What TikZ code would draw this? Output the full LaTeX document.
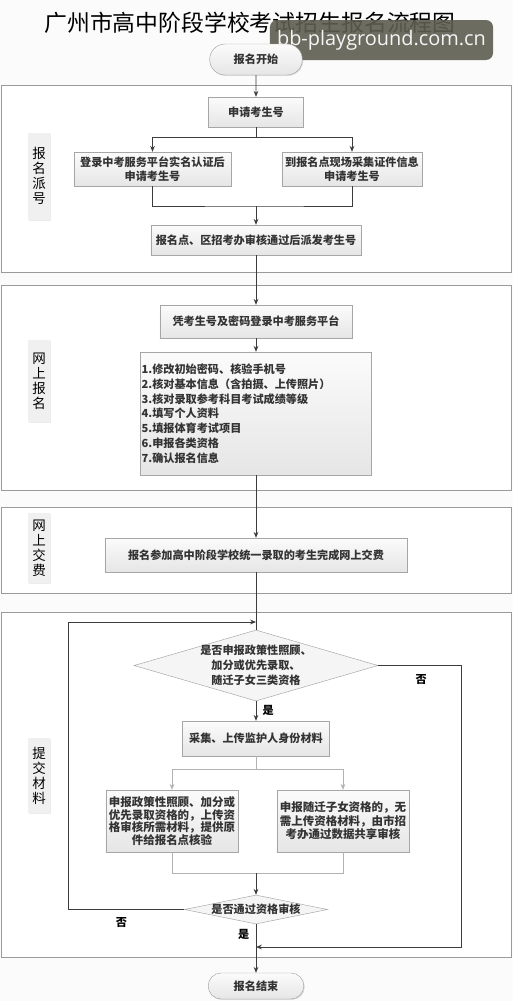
\documentclass[tikz,border=0pt]{standalone}
\usepackage{fontspec}
\setmainfont{Noto Sans CJK SC}
\newfontfamily\wmfont{Open Sans}
\usetikzlibrary{arrows.meta,shapes.geometric,shapes.misc,shadows}
\definecolor{linegray}{HTML}{3C3C3C}
\definecolor{framegray}{HTML}{9A9A9A}
\definecolor{wmbg}{HTML}{5E5D50}
\begin{document}
\begin{tikzpicture}[x=0.03cm,y=0.03cm,font=\fontsize{9.5}{11.5}\selectfont\bfseries,
  >={Stealth[length=5pt,width=4pt]},
  box/.style={draw=gray!70,top color=gray!3,bottom color=gray!20,align=center,inner sep=1pt,text=black!80,
    drop shadow={opacity=.25,shadow xshift=.8pt,shadow yshift=-.8pt}},
  term/.style={box,rounded rectangle},
  choice/.style={diamond,draw=gray!70,fill=gray!8,align=center,text=black!80,font=\fontsize{9.5}{12.8}\selectfont\bfseries},
  lbl/.style={fill=gray!12,align=center,minimum width=.66cm,inner sep=1pt,
    font=\fontsize{11.5}{12.8}\selectfont\mdseries,drop shadow={opacity=.15,shadow xshift=1pt,shadow yshift=-1pt}},
  frame/.style={draw=framegray,fill=white,line width=.6pt},
  flow/.style={draw=linegray,line width=.7pt},
  branch/.style={draw=gray!60,line width=.6pt}]
\useasboundingbox (0,0) rectangle (513,-1001);
\fill[gray!3] (0,0) rectangle (513,-1001);
\foreach \ya/\yb in {85/272,285/490,507/593,612/957}
  \draw[frame] (1.5,-\ya) rectangle (511,-\yb);
\foreach \y/\h/\t/\n in {176/2.61/{报\\名\\派\\号}/a,381/2.46/{网\\上\\报\\名}/b,548/2.1/{网\\上\\交\\费}/c,775.5/2.25/{提\\交\\材\\料}/d}
  \node[lbl,minimum height=\h cm] (lbl\n) at (39,-\y) {\t};

\node[font=\fontsize{19.5}{20}\selectfont\mdseries] (title) at (250,-23) {广州市高中阶段学校考试招生报名流程图};
\node[fill=wmbg,fill opacity=.9,text opacity=1,text=white!92!gray,rounded corners=6pt,
  minimum width=6.69cm,minimum height=1.2cm,font=\wmfont\fontsize{17}{17}\selectfont] (wm) at (381.5,-40) {bb-playground.com.cn};

\node[term,minimum width=2.85cm,minimum height=.93cm] (start) at (256,-59.5) {报名开始};
\node[box,minimum width=2.85cm,minimum height=.9cm] (apply) at (256,-112) {申请考生号};
\node[box,minimum width=4.71cm,minimum height=1.02cm] (online) at (152.5,-169) {登录中考服务平台实名认证后\\申请考生号};
\node[box,minimum width=4.2cm,minimum height=1.02cm] (onsite) at (352,-169) {到报名点现场采集证件信息\\申请考生号};
\node[box,minimum width=6.3cm,minimum height=.9cm] (assign) at (256,-240) {报名点、区招考办审核通过后派发考生号};
\node[box,minimum width=5.76cm,minimum height=.99cm] (login) at (256,-321.5) {凭考生号及密码登录中考服务平台};
\node[box,align=left,text width=6.86cm,minimum height=3.69cm,font=\fontsize{9.5}{12.6}\selectfont\bfseries] (list) at (256,-413.5)
  {1.修改初始密码、核验手机号\\2.核对基本信息（含拍摄、上传照片）\\3.核对录取参考科目考试成绩等级\\4.填写个人资料\\5.填报体育考试项目\\6.申报各类资格\\7.确认报名信息};
\node[box,minimum width=9.06cm,minimum height=1.02cm] (pay) at (256,-555) {报名参加高中阶段学校统一录取的考生完成网上交费};
\node[choice,aspect=3.44,inner sep=-2pt,minimum width=7.32cm,minimum height=2.13cm] (q1) at (256,-665.5)
  {是否申报政策性照顾、\\加分或优先录取、\\随迁子女三类资格};
\node[box,minimum width=4.41cm,minimum height=1.05cm] (collect) at (256,-738.5) {采集、上传监护人身份材料};
\node[box,minimum width=3.96cm,minimum height=1.86cm,font=\fontsize{9.8}{10.8}\selectfont\bfseries] (policy) at (172,-821)
  {申报政策性照顾、加分或\\优先录取资格的，上传资\\格审核所需材料，提供原\\件给报名点核验};
\node[box,minimum width=3.96cm,minimum height=1.86cm,font=\fontsize{9.8}{11.4}\selectfont\bfseries] (share) at (343,-821)
  {申报随迁子女资格的，无\\需上传资格材料，由市招\\考办通过数据共享审核};
\node[choice,aspect=4.9,inner sep=-1pt,minimum width=4.29cm,minimum height=.87cm] (q2) at (256,-909.5) {是否通过资格审核};
\node[term,minimum width=2.94cm,minimum height=.78cm] (finish) at (256,-986) {报名结束};

\coordinate (s1) at (256,-137);
\coordinate (m1) at (256,-206);
\coordinate (m2) at (256,-622);
\coordinate (back) at (68,-622);
\coordinate (skip) at (461,-947);
\coordinate (m3) at (256,-947);
\coordinate (s2) at (256,-769);
\coordinate (m4) at (256,-873);

\draw[flow,->] (start) -- (apply);
\draw[flow,->] (apply.south) -- (s1) -| (online.north);
\draw[flow,->] (s1) -| (onsite.north);
\draw[flow] (online.south) |- (m1) -| (onsite.south);
\draw[flow,->] (m1) -- (assign.north);
\draw[flow,->] (assign) -- (login);
\draw[flow,->] (login) -- (list);
\draw[flow,->] (list) -- (pay);
\draw[flow] (pay.south) -- (q1.north);
\draw[flow,->] (q1.east) -| node[pos=.26,below=4pt] (no1) {否} (skip) -- (m3);
\draw[flow,->] (q1.south) -- node[pos=.45,right=2pt] (yes1) {是} (collect.north);
\draw[branch,->] (collect.south) -- (s2) -| (policy.north);
\draw[branch,->] (s2) -| (share.north);
\draw[branch] (policy.south) |- (m4) -| (share.south);
\draw[flow,->] (m4) -- (q2.north);
\draw[flow,->] (q2.west) -| node[pos=.27,below=3pt] (no2) {否} (back) -- (m2);
\draw[flow,->] (q2.south) -- node[pos=.22,left=2pt] (yes2) {是} (finish.north);
\end{tikzpicture}
\end{document}
